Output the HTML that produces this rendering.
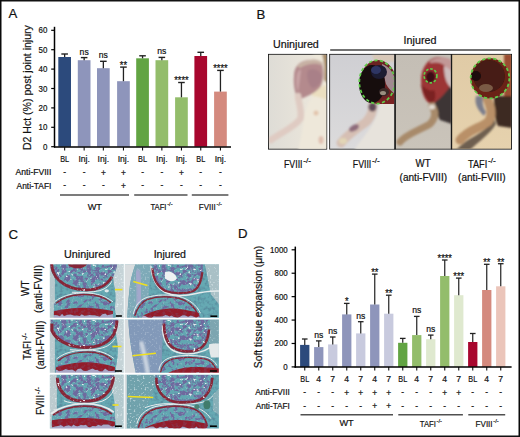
<!DOCTYPE html>
<html><head><meta charset="utf-8"><title>Figure</title>
<style>
html,body{margin:0;padding:0;background:#fff;}
body{width:520px;height:437px;overflow:hidden;}
svg{display:block;font-family:"Liberation Sans",sans-serif;}
text{stroke:#111;stroke-width:0.2px;}
</style></head><body>
<svg width="520" height="437" viewBox="0 0 520 437">
<rect width="520" height="437" fill="#fff"/>
<defs>
<filter id="bl1" x="-20%" y="-20%" width="140%" height="140%"><feGaussianBlur stdDeviation="1.2"/></filter>
<filter id="bl2" x="-20%" y="-20%" width="140%" height="140%"><feGaussianBlur stdDeviation="2.2"/></filter>
<filter id="bl05" x="-10%" y="-10%" width="120%" height="120%"><feGaussianBlur stdDeviation="0.5"/></filter>
<clipPath id="cp1"><rect x="268.9" y="54.8" width="57.4" height="93.9"/></clipPath>
<clipPath id="cp2"><rect x="330.1" y="54.8" width="64.3" height="93.9"/></clipPath>
<clipPath id="cp3"><rect x="395.7" y="54.8" width="55.2" height="93.9"/></clipPath>
<clipPath id="cp4"><rect x="452.1" y="54.8" width="59.0" height="93.9"/></clipPath>
<linearGradient id="g1" x1="0" y1="0" x2="1" y2="0"><stop offset="0" stop-color="#dedcd6"/><stop offset="1" stop-color="#efe9dc"/></linearGradient>
<linearGradient id="g2" x1="0" y1="0" x2="0" y2="1"><stop offset="0" stop-color="#cfcfd3"/><stop offset="1" stop-color="#dcdbdc"/></linearGradient>
<linearGradient id="g3" x1="0" y1="0" x2="0" y2="1"><stop offset="0" stop-color="#c4beb5"/><stop offset="1" stop-color="#cac4ba"/></linearGradient>
<linearGradient id="g4" x1="0" y1="0" x2="0" y2="1"><stop offset="0" stop-color="#e0cba6"/><stop offset="1" stop-color="#e6d2ae"/></linearGradient>
<filter id="trab" x="-5%" y="-5%" width="110%" height="110%" color-interpolation-filters="sRGB"><feTurbulence type="fractalNoise" baseFrequency="0.24" numOctaves="3" seed="4"/><feColorMatrix type="matrix" values="0 0 0 0 0.43  0 0 0 0 0.41  0 0 0 0 0.62  6 0 0 0 -2.5"/><feComposite in2="SourceGraphic" operator="in"/></filter>
<filter id="trab2" x="-5%" y="-5%" width="110%" height="110%" color-interpolation-filters="sRGB"><feTurbulence type="fractalNoise" baseFrequency="0.24" numOctaves="3" seed="9"/><feColorMatrix type="matrix" values="0 0 0 0 0.43  0 0 0 0 0.41  0 0 0 0 0.62  6 0 0 0 -3.0"/><feComposite in2="SourceGraphic" operator="in"/></filter>
<filter id="marrow" x="0" y="0" width="100%" height="100%" color-interpolation-filters="sRGB"><feTurbulence type="fractalNoise" baseFrequency="0.28" numOctaves="2" seed="21"/><feColorMatrix type="matrix" values="0 0 0 0 0.91  0 0 0 0 0.93  0 0 0 0 0.94  9 0 0 0 -6.0"/><feComposite in2="SourceGraphic" operator="in"/></filter>
<filter id="cellblur" x="-5%" y="-5%" width="110%" height="110%"><feGaussianBlur stdDeviation="0.45"/></filter>
<filter id="speck" x="0" y="0" width="100%" height="100%" color-interpolation-filters="sRGB"><feTurbulence type="fractalNoise" baseFrequency="0.55" numOctaves="1" seed="7"/><feColorMatrix type="matrix" values="0 0 0 0 0.92  0 0 0 0 0.95  0 0 0 0 0.96  4 0 0 0 -2.3"/><feComposite in2="SourceGraphic" operator="in"/></filter>
<filter id="dspeck" x="0" y="0" width="100%" height="100%" color-interpolation-filters="sRGB"><feTurbulence type="fractalNoise" baseFrequency="0.3" numOctaves="2" seed="12"/><feColorMatrix type="matrix" values="0 0 0 0 0.3  0 0 0 0 0.45  0 0 0 0 0.55  3 0 0 0 -1.3"/><feComposite in2="SourceGraphic" operator="in"/></filter>
</defs>
<text x="8.6" y="18.3" font-size="13.2" fill="#111" >A</text>
<line x1="54.5" y1="26.8" x2="54.5" y2="147.5" stroke="#000" stroke-width="1.5" />
<line x1="51.2" y1="146.7" x2="54.5" y2="146.7" stroke="#000" stroke-width="1.2" />
<text x="47.4" y="149.7" font-size="8.9" fill="#111" text-anchor="end" textLength="4.4" lengthAdjust="spacingAndGlyphs" >0</text>
<line x1="51.2" y1="127.3" x2="54.5" y2="127.3" stroke="#000" stroke-width="1.2" />
<text x="47.4" y="130.3" font-size="8.9" fill="#111" text-anchor="end" textLength="8.8" lengthAdjust="spacingAndGlyphs" >10</text>
<line x1="51.2" y1="107.9" x2="54.5" y2="107.9" stroke="#000" stroke-width="1.2" />
<text x="47.4" y="110.9" font-size="8.9" fill="#111" text-anchor="end" textLength="8.8" lengthAdjust="spacingAndGlyphs" >20</text>
<line x1="51.2" y1="88.5" x2="54.5" y2="88.5" stroke="#000" stroke-width="1.2" />
<text x="47.4" y="91.5" font-size="8.9" fill="#111" text-anchor="end" textLength="8.8" lengthAdjust="spacingAndGlyphs" >30</text>
<line x1="51.2" y1="69.1" x2="54.5" y2="69.1" stroke="#000" stroke-width="1.2" />
<text x="47.4" y="72.1" font-size="8.9" fill="#111" text-anchor="end" textLength="8.8" lengthAdjust="spacingAndGlyphs" >40</text>
<line x1="51.2" y1="49.7" x2="54.5" y2="49.7" stroke="#000" stroke-width="1.2" />
<text x="47.4" y="52.7" font-size="8.9" fill="#111" text-anchor="end" textLength="8.8" lengthAdjust="spacingAndGlyphs" >50</text>
<line x1="51.2" y1="30.3" x2="54.5" y2="30.3" stroke="#000" stroke-width="1.2" />
<text x="47.4" y="33.3" font-size="8.9" fill="#111" text-anchor="end" textLength="8.8" lengthAdjust="spacingAndGlyphs" >60</text>
<text x="31" y="87.6" font-size="11.2" fill="#111" text-anchor="middle" textLength="125" lengthAdjust="spacingAndGlyphs" transform="rotate(-90 31 87.6)" >D2 Hct (%) post joint injury</text>
<rect x="58.3" y="57" width="12.7" height="89.7" fill="#2c4a7c" />
<line x1="64.65" y1="57" x2="64.65" y2="54" stroke="#222" stroke-width="1.3" />
<line x1="61.35" y1="54" x2="67.95" y2="54" stroke="#222" stroke-width="1.4" />
<rect x="77.8" y="60.2" width="12.7" height="86.5" fill="#8e95bb" />
<line x1="84.15" y1="60.2" x2="84.15" y2="57.6" stroke="#222" stroke-width="1.3" />
<line x1="80.85" y1="57.6" x2="87.45" y2="57.6" stroke="#222" stroke-width="1.4" />
<text x="84.15" y="54.6" font-size="8.6" fill="#111" text-anchor="middle" >ns</text>
<rect x="97" y="68.2" width="12.7" height="78.5" fill="#8e95bb" />
<line x1="103.35" y1="68.2" x2="103.35" y2="61.3" stroke="#222" stroke-width="1.3" />
<line x1="100.05" y1="61.3" x2="106.65" y2="61.3" stroke="#222" stroke-width="1.4" />
<text x="103.35" y="58.3" font-size="8.6" fill="#111" text-anchor="middle" >ns</text>
<rect x="117.1" y="81.2" width="12.7" height="65.5" fill="#8e95bb" />
<line x1="123.45" y1="81.2" x2="123.45" y2="67.1" stroke="#222" stroke-width="1.3" />
<line x1="120.15" y1="67.1" x2="126.75" y2="67.1" stroke="#222" stroke-width="1.4" />
<text x="123.45" y="68.7" font-size="10" fill="#111" text-anchor="middle" textLength="7.2" lengthAdjust="spacingAndGlyphs" >**</text>
<rect x="136.2" y="58.3" width="12.7" height="88.4" fill="#62a443" />
<line x1="142.55" y1="58.3" x2="142.55" y2="55.8" stroke="#222" stroke-width="1.3" />
<line x1="139.25" y1="55.8" x2="145.85" y2="55.8" stroke="#222" stroke-width="1.4" />
<rect x="155.5" y="60.2" width="12.7" height="86.5" fill="#93bd6b" />
<line x1="161.85" y1="60.2" x2="161.85" y2="57.4" stroke="#222" stroke-width="1.3" />
<line x1="158.55" y1="57.4" x2="165.15" y2="57.4" stroke="#222" stroke-width="1.4" />
<text x="161.85" y="54.4" font-size="8.6" fill="#111" text-anchor="middle" >ns</text>
<rect x="175.1" y="97.3" width="12.7" height="49.4" fill="#93bd6b" />
<line x1="181.45" y1="97.3" x2="181.45" y2="82.5" stroke="#222" stroke-width="1.3" />
<line x1="178.15" y1="82.5" x2="184.75" y2="82.5" stroke="#222" stroke-width="1.4" />
<text x="181.45" y="84.1" font-size="10" fill="#111" text-anchor="middle" textLength="14.4" lengthAdjust="spacingAndGlyphs" >****</text>
<rect x="194.4" y="56" width="12.7" height="90.7" fill="#a8072e" />
<line x1="200.75" y1="56" x2="200.75" y2="52.3" stroke="#222" stroke-width="1.3" />
<line x1="197.45" y1="52.3" x2="204.05" y2="52.3" stroke="#222" stroke-width="1.4" />
<rect x="214.1" y="91.6" width="12.7" height="55.1" fill="#d48a7e" />
<line x1="220.45" y1="91.6" x2="220.45" y2="70.4" stroke="#222" stroke-width="1.3" />
<line x1="217.15" y1="70.4" x2="223.75" y2="70.4" stroke="#222" stroke-width="1.4" />
<text x="220.45" y="72" font-size="10" fill="#111" text-anchor="middle" textLength="14.4" lengthAdjust="spacingAndGlyphs" >****</text>
<line x1="54" y1="146.9" x2="231" y2="146.9" stroke="#000" stroke-width="1.5" />
<line x1="64.65" y1="147" x2="64.65" y2="150.4" stroke="#111" stroke-width="1.1" />
<text x="64.65" y="161.9" font-size="8.6" fill="#111" text-anchor="middle" textLength="8.9" lengthAdjust="spacingAndGlyphs" >BL</text>
<text x="64.65" y="175.2" font-size="8.4" fill="#111" text-anchor="middle" >-</text>
<text x="64.65" y="188.3" font-size="8.4" fill="#111" text-anchor="middle" >-</text>
<line x1="84.15" y1="147" x2="84.15" y2="150.4" stroke="#111" stroke-width="1.1" />
<text x="84.15" y="161.9" font-size="8.6" fill="#111" text-anchor="middle" >Inj.</text>
<text x="84.15" y="175.2" font-size="8.4" fill="#111" text-anchor="middle" >-</text>
<text x="84.15" y="188.3" font-size="8.4" fill="#111" text-anchor="middle" >-</text>
<line x1="103.35" y1="147" x2="103.35" y2="150.4" stroke="#111" stroke-width="1.1" />
<text x="103.35" y="161.9" font-size="8.6" fill="#111" text-anchor="middle" >Inj.</text>
<text x="103.35" y="175.6" font-size="8.4" fill="#111" text-anchor="middle" >+</text>
<text x="103.35" y="188.3" font-size="8.4" fill="#111" text-anchor="middle" >-</text>
<line x1="123.45" y1="147" x2="123.45" y2="150.4" stroke="#111" stroke-width="1.1" />
<text x="123.45" y="161.9" font-size="8.6" fill="#111" text-anchor="middle" >Inj.</text>
<text x="123.45" y="175.6" font-size="8.4" fill="#111" text-anchor="middle" >+</text>
<text x="123.45" y="188.7" font-size="8.4" fill="#111" text-anchor="middle" >+</text>
<line x1="142.55" y1="147" x2="142.55" y2="150.4" stroke="#111" stroke-width="1.1" />
<text x="142.55" y="161.9" font-size="8.6" fill="#111" text-anchor="middle" textLength="8.9" lengthAdjust="spacingAndGlyphs" >BL</text>
<text x="142.55" y="175.2" font-size="8.4" fill="#111" text-anchor="middle" >-</text>
<text x="142.55" y="188.3" font-size="8.4" fill="#111" text-anchor="middle" >-</text>
<line x1="161.85" y1="147" x2="161.85" y2="150.4" stroke="#111" stroke-width="1.1" />
<text x="161.85" y="161.9" font-size="8.6" fill="#111" text-anchor="middle" >Inj.</text>
<text x="161.85" y="175.2" font-size="8.4" fill="#111" text-anchor="middle" >-</text>
<text x="161.85" y="188.3" font-size="8.4" fill="#111" text-anchor="middle" >-</text>
<line x1="181.45" y1="147" x2="181.45" y2="150.4" stroke="#111" stroke-width="1.1" />
<text x="181.45" y="161.9" font-size="8.6" fill="#111" text-anchor="middle" >Inj.</text>
<text x="181.45" y="175.6" font-size="8.4" fill="#111" text-anchor="middle" >+</text>
<text x="181.45" y="188.3" font-size="8.4" fill="#111" text-anchor="middle" >-</text>
<line x1="200.75" y1="147" x2="200.75" y2="150.4" stroke="#111" stroke-width="1.1" />
<text x="200.75" y="161.9" font-size="8.6" fill="#111" text-anchor="middle" textLength="8.9" lengthAdjust="spacingAndGlyphs" >BL</text>
<text x="200.75" y="175.2" font-size="8.4" fill="#111" text-anchor="middle" >-</text>
<text x="200.75" y="188.3" font-size="8.4" fill="#111" text-anchor="middle" >-</text>
<line x1="220.45" y1="147" x2="220.45" y2="150.4" stroke="#111" stroke-width="1.1" />
<text x="220.45" y="161.9" font-size="8.6" fill="#111" text-anchor="middle" >Inj.</text>
<text x="220.45" y="175.2" font-size="8.4" fill="#111" text-anchor="middle" >-</text>
<text x="220.45" y="188.3" font-size="8.4" fill="#111" text-anchor="middle" >-</text>
<text x="51.4" y="175.4" font-size="8.4" fill="#111" text-anchor="end" textLength="35.8" lengthAdjust="spacingAndGlyphs" >Anti-FVIII</text>
<text x="51.4" y="188.5" font-size="8.4" fill="#111" text-anchor="end" textLength="34.8" lengthAdjust="spacingAndGlyphs" >Anti-TAFI</text>
<line x1="60" y1="195" x2="129" y2="195" stroke="#505050" stroke-width="1.6" />
<line x1="134.2" y1="195" x2="187.5" y2="195" stroke="#505050" stroke-width="1.6" />
<line x1="191.8" y1="195" x2="228.4" y2="195" stroke="#505050" stroke-width="1.6" />
<text x="94.8" y="210.1" font-size="9.2" fill="#111" text-anchor="middle" >WT</text>
<text x="150.4" y="210" font-size="9" fill="#111" textLength="16.1" lengthAdjust="spacingAndGlyphs" >TAFI</text>
<text x="167.2" y="206" font-size="5.8" fill="#111" textLength="5.4" lengthAdjust="spacingAndGlyphs" >-/-</text>
<text x="198.8" y="210" font-size="9" fill="#111" textLength="17" lengthAdjust="spacingAndGlyphs" >FVIII</text>
<text x="216.5" y="206" font-size="5.8" fill="#111" textLength="5.4" lengthAdjust="spacingAndGlyphs" >-/-</text>
<text x="256.6" y="18.5" font-size="13.2" fill="#111" >B</text>
<text x="273" y="47.9" font-size="10.4" fill="#111" textLength="45.8" lengthAdjust="spacingAndGlyphs" >Uninjured</text>
<text x="403.6" y="43.6" font-size="10.4" fill="#111" textLength="32.8" lengthAdjust="spacingAndGlyphs" >Injured</text>
<line x1="330.2" y1="50" x2="510.6" y2="50" stroke="#444" stroke-width="1.6" />
<rect x="268" y="53.9" width="59.2" height="95.7" fill="#1c1c1c"/>
<rect x="329.2" y="53.9" width="182.8" height="95.7" fill="#1c1c1c"/>
<g clip-path="url(#cp1)">
<rect x="268" y="54" width="60" height="96" fill="url(#g1)"/>
<g filter="url(#bl1)">
<path d="M312 54 L328 54 L328 150 L298 150 C301 140 303 128 304 118 C306 106 312 96 320 88 C324 82 324 70 320 62 Z" fill="#eee8da"/>
<path d="M322 54 L328 54 L328 84 L324 80 C325 70 324 60 322 54 Z" fill="#a78b68"/>
<path d="M312 90 C318 88 324 86 327 84 L327 100 C322 98 316 96 312 96 Z" fill="#ebdfc0"/>
<path d="M294 76 C294 68 298 63 304 61 C310 59 318 60 322 63 C324 70 324 80 321 86 C316 93 306 97 298 100 C295 94 293 84 294 76 Z" fill="#b48a8d"/>
<path d="M297 66 C301 62 308 59.5 315 59.5 C319 60 322 61.5 323 63 L321 65 C316 63 308 63 300 68 Z" fill="#c8b2a4"/>
<path d="M308 70 C314 68 320 70 322 76 C322 82 318 88 312 88 C308 84 306 76 308 70 Z" fill="#a98088"/>
<path d="M296.5 78 C297 72 299 69 301 70 C300 78 299 86 298 92 C296.5 88 296 84 296.5 78 Z" fill="#c9a4a6"/>
<path d="M298 96 C299 104 302 112 300.5 118.5 C295 127 282 132 271 140" fill="none" stroke="#dfcbc2" stroke-width="6.5" stroke-linecap="round"/>
<ellipse cx="316" cy="113" rx="2.5" ry="2.5" fill="#e2c4ac"/>
<ellipse cx="321" cy="140" rx="2.5" ry="4" fill="#e0c0b0"/>
</g></g>
<g clip-path="url(#cp2)">
<rect x="329" y="54" width="66" height="96" fill="url(#g2)"/>
<g filter="url(#bl1)">
<path d="M372 54 L395 54 L395 62 L374 61 Z" fill="#d8c8b8"/>
<path d="M380 104 C384 96 392 96 395 96 L395 150 L354 150 C364 136 376 124 380 104 Z" fill="#e7e3dc"/>
<path d="M373 101 C373 110 372 116 366 122 C358 128 348 134 341 143" fill="none" stroke="#d6bfb4" stroke-width="9" stroke-linecap="round"/>
<ellipse cx="354" cy="128" rx="5.5" ry="3" fill="#8e6c7c" transform="rotate(-30 354 128)"/>
<ellipse cx="372.5" cy="107" rx="4" ry="4.5" fill="#5e4856"/>
<ellipse cx="343" cy="141" rx="4" ry="3" fill="#e2d6b6"/>
</g>
<g filter="url(#bl05)">
<ellipse cx="378" cy="82" rx="18" ry="22" fill="#6a2424"/>
<path d="M382 64 C388 66 394 72 395 80 L395 94 C392 92 388 88 386 84 C384 76 382 70 382 64 Z" fill="#a08a90"/>
<ellipse cx="372" cy="84" rx="13" ry="19" fill="#130910"/>
<ellipse cx="379" cy="72" rx="8" ry="7" fill="#1e1a30"/>
<ellipse cx="376" cy="70" rx="5" ry="4" fill="#2e3664"/>
<ellipse cx="384" cy="92" rx="5" ry="4" fill="#3a2a28"/>
<ellipse cx="383" cy="93" rx="3" ry="2" fill="#9a9080"/>
<path d="M376 102 C382 100 390 96 395 92 L395 104 L376 104 Z" fill="#7a2424"/>
</g>
<ellipse cx="377" cy="82" rx="17.7" ry="21.6" fill="none" stroke="#5fcb48" stroke-width="1.8" stroke-dasharray="3.2 2.4"/>
</g>
<g clip-path="url(#cp3)">
<rect x="395" y="54" width="57" height="96" fill="url(#g3)"/>
<g filter="url(#bl1)">
<path d="M436 84 L452 78 L452 124 L440 120 C434 110 434 96 436 86 Z" fill="#3c3636"/>
<path d="M421 80 C421 68 428 58 438 57 C446 57 452 62 452 68 L452 84 C446 92 440 100 432 104 C426 104 421 94 421 80 Z" fill="#9c3434"/>
<path d="M430 61 C436 57 444 56 450 59 L452 62 L452 76 C448 72 446 68 444 65 C440 62 436 62 430 63 Z" fill="#c29896"/>
<path d="M444 66 C448 68 452 70 452 74 L452 88 C448 86 444 80 444 66 Z" fill="#cdbcbc"/>
<path d="M421 84 C423 94 427 100 432 104 C436 100 436 94 434 90 C430 92 426 90 421 84 Z" fill="#7a2020"/>
<ellipse cx="430.5" cy="77" rx="5" ry="6" fill="#3a1016"/>
<path d="M432 106 C436 112 436 118 430 124 C420 130 406 134 400 142" fill="none" stroke="#a88a6a" stroke-width="7" stroke-linecap="round"/>
<ellipse cx="432" cy="107" rx="3" ry="2.5" fill="#e2dad2"/>
</g>
<ellipse cx="430.5" cy="75.8" rx="6.4" ry="7" fill="none" stroke="#5fcb48" stroke-width="1.7" stroke-dasharray="2.6 1.8"/>
</g>
<g clip-path="url(#cp4)">
<rect x="451" y="54" width="61" height="96" fill="url(#g4)"/>
<g filter="url(#bl1)">
<path d="M504 54 L512 54 L512 106 L504 104 Z" fill="#9a4e32"/>
<path d="M494 96 L512 96 L512 128 L498 126 C494 118 494 106 494 96 Z" fill="#3e2c22"/>
<path d="M476 96 C474 104 478 110 484 116 L486 112 C482 106 482 100 484 96 Z" fill="#7c7e8c"/>
<path d="M494 118 C490 128 478 134 468 140 C462 144 458 148 456 150 L470 150 C478 142 490 134 496 124 Z" fill="#6e5e50"/>
<path d="M487 98 C490 106 494 114 488 122 C480 128 468 130 460 140" fill="none" stroke="#b99068" stroke-width="9" stroke-linecap="round"/>
</g>
<g filter="url(#bl05)">
<ellipse cx="490" cy="78.3" rx="19.5" ry="20.2" fill="#6a2416"/>
<ellipse cx="489" cy="76" rx="16" ry="16" fill="#461a12"/>
<ellipse cx="486" cy="88" rx="7" ry="4" fill="#7a5a44"/>
<ellipse cx="476" cy="76" rx="5" ry="5" fill="#1c0c0c"/>
</g>
<ellipse cx="490" cy="78.3" rx="19.3" ry="20" fill="none" stroke="#5fcb48" stroke-width="1.8" stroke-dasharray="3.2 2.4"/>
</g>
<rect x="394.4" y="54" width="1.3" height="95.5" fill="#1a1a1a"/>
<rect x="450.9" y="54" width="1.2" height="95.5" fill="#1a1a1a"/>
<text x="284" y="167.5" font-size="10.2" fill="#111" textLength="18.5" lengthAdjust="spacingAndGlyphs" >FVIII</text>
<text x="303.2" y="162.9" font-size="8" fill="#111" textLength="7.8" lengthAdjust="spacingAndGlyphs" >-/-</text>
<text x="352.8" y="167.5" font-size="10.2" fill="#111" textLength="18.5" lengthAdjust="spacingAndGlyphs" >FVIII</text>
<text x="372" y="162.9" font-size="8" fill="#111" textLength="7.8" lengthAdjust="spacingAndGlyphs" >-/-</text>
<text x="423.1" y="166.9" font-size="10" fill="#111" text-anchor="middle" textLength="15" lengthAdjust="spacingAndGlyphs" >WT</text>
<text x="423.3" y="180.7" font-size="10" fill="#111" text-anchor="middle" textLength="47.5" lengthAdjust="spacingAndGlyphs" >(anti-FVIII)</text>
<text x="468" y="167.5" font-size="10.2" fill="#111" textLength="19.2" lengthAdjust="spacingAndGlyphs" >TAFI</text>
<text x="487.9" y="162.9" font-size="8" fill="#111" textLength="7.8" lengthAdjust="spacingAndGlyphs" >-/-</text>
<text x="481.8" y="180.7" font-size="10" fill="#111" text-anchor="middle" textLength="47.5" lengthAdjust="spacingAndGlyphs" >(anti-FVIII)</text>
<text x="8.6" y="239" font-size="13.2" fill="#111" >C</text>
<text x="64" y="257.9" font-size="10.4" fill="#111" textLength="46.2" lengthAdjust="spacingAndGlyphs" >Uninjured</text>
<text x="153.7" y="257.9" font-size="10.4" fill="#111" textLength="32.3" lengthAdjust="spacingAndGlyphs" >Injured</text>
<clipPath id="hc00"><rect x="0" y="0" width="73.8" height="53.5"/></clipPath><g transform="translate(49.9 264.2)"><g clip-path="url(#hc00)"><g filter="url(#cellblur)"><rect x="-2" y="-2" width="77.8" height="57.5" fill="#66a9b3"/><rect x="0" y="0" width="73.8" height="53.5" fill="#000" filter="url(#dspeck)" opacity="0.5"/><path d="M0 0 L5 0 L5 54 L0 54 Z" fill="#b7c9cd"/><path d="M0 0 L5 0 L5 54 L0 54 Z" fill="#000" filter="url(#speck)" opacity="0.50"/><path d="M62 0 L74 0 L74 54 L62 54 C66 44 67 30 64 20 Z" fill="#c5d3d7"/><path d="M62 0 L74 0 L74 54 L62 54 C66 44 67 30 64 20 Z" fill="#000" filter="url(#speck)" opacity="0.90"/><path d="M0.5 0 C0.5 12 10 26 36 26.8 C50 26.8 58 22 63 13 C66 7 67 3 67 0 Z" fill="#62a6b1"/><path d="M0.5 0 C0.5 12 10 26 36 26.8 C50 26.8 58 22 63 13 C66 7 67 3 67 0 Z" fill="#000" filter="url(#trab)"/><path d="M22 28 C30 28.4 42 28.4 50 26.4 C56 24.6 60 21 62 17" fill="none" stroke="#e6eced" stroke-width="1.0"/><path d="M1.8 -1 C1.8 11 11 25 36 25.6 C50 25.8 57 21 62 12.5" fill="none" stroke="#862838" stroke-width="2.86"/><path d="M0.5 0 C0.5 12 10 26 36 26.8 C50 26.8 58 22 63 13 C66 7 67 3 67 0 Z" fill="#000" filter="url(#speck)" opacity="0.35"/><path d="M0.5 0 C0.5 12 10 26 36 26.8 C50 26.8 58 22 63 13 C66 7 67 3 67 0 Z" fill="#000" filter="url(#marrow)"/><path d="M18 0 L37 0 C36 2 33 4 28 4 C22 4 19 2 18 0 Z" fill="#862838"/><ellipse cx="56.8" cy="26.6" rx="2.2" ry="1.6" fill="#dfe8ea"/><path d="M4 54 L4 40 C10 34.5 20 30.2 30 29.4 C42 28.6 54 31 62 38 C65 42 66 48 66 54 Z" fill="#62a6b1"/><path d="M4 54 L4 40 C10 34.5 20 30.2 30 29.4 C42 28.6 54 31 62 38 C65 42 66 48 66 54 Z" fill="#000" filter="url(#trab2)"/><path d="M5 37.2 C12 32 21 29.4 30 28.8 C42 28 54 30.4 63 37.6" fill="none" stroke="#e6eced" stroke-width="1.0"/><path d="M6 39 C12 34 21 31 30 30.5 C42 29.8 54 32 61 38.5" fill="none" stroke="#862838" stroke-width="1.44"/><path d="M4 54 L4 40 C10 34.5 20 30.2 30 29.4 C42 28.6 54 31 62 38 C65 42 66 48 66 54 Z" fill="#000" filter="url(#speck)" opacity="0.35"/><path d="M63.0 60.0 L63.0 49.9 L63.0 49.9 L60.3 50.3 L57.4 51.1 L55.5 49.2 L52.3 50.0 L50.1 52.2 L47.5 51.7 L44.9 51.1 L42.8 51.1 L39.6 50.8 L36.5 51.2 L34.6 51.5 L31.8 50.1 L29.9 51.8 L27.3 51.4 L24.0 51.3 L20.7 50.4 L17.5 50.5 L14.1 51.8 L12.2 49.6 L10.0 52.1 L7.5 51.1 L5.1 50.7 L4.0 51.0 L4.0 60 Z" fill="#a9a6c6"/><path d="M4.0 47.0 C12.8 45.0 24.6 43.6 33.5 43.6 C42.4 43.6 54.1 44.9 63.0 46.8 L63.0 49.9 L60.3 50.3 L57.4 51.1 L55.5 49.2 L52.3 50.0 L50.1 52.2 L47.5 51.7 L44.9 51.1 L42.8 51.1 L39.6 50.8 L36.5 51.2 L34.6 51.5 L31.8 50.1 L29.9 51.8 L27.3 51.4 L24.0 51.3 L20.7 50.4 L17.5 50.5 L14.1 51.8 L12.2 49.6 L10.0 52.1 L7.5 51.1 L5.1 50.7 L4.0 51.0 Z" fill="#931f2c"/><path d="M4.0 47.0 C12.8 45.0 24.6 43.6 33.5 43.6 C42.4 43.6 54.1 44.9 63.0 46.8 L63.0 49.9 L60.3 50.3 L57.4 51.1 L55.5 49.2 L52.3 50.0 L50.1 52.2 L47.5 51.7 L44.9 51.1 L42.8 51.1 L39.6 50.8 L36.5 51.2 L34.6 51.5 L31.8 50.1 L29.9 51.8 L27.3 51.4 L24.0 51.3 L20.7 50.4 L17.5 50.5 L14.1 51.8 L12.2 49.6 L10.0 52.1 L7.5 51.1 L5.1 50.7 L4.0 51.0 Z" fill="#000" filter="url(#trab2)" opacity="0.2"/><line x1="65.0" y1="25.4" x2="72.5" y2="25.4" stroke="#f0e01e" stroke-width="1.6" stroke-linecap="butt"/><line x1="66.0" y1="51.8" x2="72.0" y2="51.8" stroke="#050505" stroke-width="1.6"/></g></g></g>
<clipPath id="hc01"><rect x="0" y="0" width="94.0" height="53.5"/></clipPath><g transform="translate(124.9 264.2)"><g clip-path="url(#hc01)"><g filter="url(#cellblur)"><rect x="-2" y="-2" width="98.0" height="57.5" fill="#66a9b3"/><rect x="0" y="0" width="94.0" height="53.5" fill="#000" filter="url(#dspeck)" opacity="0.5"/><path d="M0 0 L10.5 0 C7 10 5 18 4.5 26 C3.5 36 2.5 46 2.5 54 L0 54 Z" fill="#d9dddf"/><path d="M10.5 0 L27 0 C25 12 24 30 23 40 C20 46 14 50 10 54 L2.5 54 C2.5 46 3.5 36 4.5 26 C5 18 7 10 10.5 0 Z" fill="#7eaab8"/><path d="M10.5 0 L27 0 C25 12 24 30 23 40 C20 46 14 50 10 54 L2.5 54 C2.5 46 3.5 36 4.5 26 C5 18 7 10 10.5 0 Z" fill="#000" filter="url(#speck)" opacity="0.50"/><path d="M12 6 C14 16 16 28 14 44" stroke="#a4a8cc" stroke-width="6" fill="none" filter="url(#bl1)"/><path d="M80 0 L94 0 L94 40 L86 30 Z" fill="#a9c0c6"/><path d="M80 0 L94 0 L94 40 L86 30 Z" fill="#000" filter="url(#speck)" opacity="0.90"/><path d="M27 0 C26 10 30 22 40 27 C48 30.5 60 31 68 28 C76 25 78 12 78 0 Z" fill="#62a6b1"/><path d="M27 0 C26 10 30 22 40 27 C48 30.5 60 31 68 28 C76 25 78 12 78 0 Z" fill="#000" filter="url(#trab)"/><path d="M26 2 C27 14 31 23 40 28 C48 31.8 60 32.4 70 29.6 C80 27 88 27 94 26.8" fill="none" stroke="#e6eced" stroke-width="1.5"/><path d="M27.5 4 C28 14 32 22 40 26.5 C48 29.5 60 30 68 27 C74 24.5 76.5 16 77.5 8" fill="none" stroke="#862838" stroke-width="2.20"/><path d="M27 0 C26 10 30 22 40 27 C48 30.5 60 31 68 28 C76 25 78 12 78 0 Z" fill="#000" filter="url(#speck)" opacity="0.35"/><path d="M27 0 C26 10 30 22 40 27 C48 30.5 60 31 68 28 C76 25 78 12 78 0 Z" fill="#000" filter="url(#marrow)"/><path d="M40 8 C44 6 50 8 52 14 C50 18 44 18 40 14 Z" fill="#eef2f2"/><path d="M8 54 C10 44 14 37 22 34 C32 31 44 31 54 33 C64 35.5 72 42 76 54 Z" fill="#62a6b1"/><path d="M8 54 C10 44 14 37 22 34 C32 31 44 31 54 33 C64 35.5 72 42 76 54 Z" fill="#000" filter="url(#trab2)"/><path d="M8.5 50 C10 42 14 36.2 22 33.2 C32 30.2 44 30.2 54 32.2 C64 34.7 72 41 75.5 49" fill="none" stroke="#e6eced" stroke-width="1.0"/><path d="M10 52 C12 44 16 38 23 35 C32 32 44 32 54 34 C63 36.5 70 42 74 52" fill="none" stroke="#862838" stroke-width="1.44"/><path d="M8 54 C10 44 14 37 22 34 C32 31 44 31 54 33 C64 35.5 72 42 76 54 Z" fill="#000" filter="url(#speck)" opacity="0.35"/><path d="M74.0 60.0 L74.0 52.1 L74.0 52.1 L71.2 53.5 L68.7 52.2 L65.9 51.3 L63.2 52.6 L60.0 51.0 L57.7 51.0 L54.5 52.8 L52.7 53.6 L49.2 52.7 L46.4 51.2 L44.6 52.3 L42.7 51.3 L40.5 50.8 L37.9 52.0 L34.6 52.3 L31.7 52.2 L28.8 52.1 L26.5 53.7 L23.1 53.2 L20.0 51.6 L17.9 51.6 L17.0 52.5 L17.0 60 Z" fill="#a9a6c6"/><path d="M17.0 52.0 C25.5 47.4 37.0 44.4 45.5 44.4 C54.0 44.4 65.5 46.2 74.0 49.0 L74.0 52.1 L71.2 53.5 L68.7 52.2 L65.9 51.3 L63.2 52.6 L60.0 51.0 L57.7 51.0 L54.5 52.8 L52.7 53.6 L49.2 52.7 L46.4 51.2 L44.6 52.3 L42.7 51.3 L40.5 50.8 L37.9 52.0 L34.6 52.3 L31.7 52.2 L28.8 52.1 L26.5 53.7 L23.1 53.2 L20.0 51.6 L17.9 51.6 L17.0 52.5 Z" fill="#931f2c"/><path d="M17.0 52.0 C25.5 47.4 37.0 44.4 45.5 44.4 C54.0 44.4 65.5 46.2 74.0 49.0 L74.0 52.1 L71.2 53.5 L68.7 52.2 L65.9 51.3 L63.2 52.6 L60.0 51.0 L57.7 51.0 L54.5 52.8 L52.7 53.6 L49.2 52.7 L46.4 51.2 L44.6 52.3 L42.7 51.3 L40.5 50.8 L37.9 52.0 L34.6 52.3 L31.7 52.2 L28.8 52.1 L26.5 53.7 L23.1 53.2 L20.0 51.6 L17.9 51.6 L17.0 52.5 Z" fill="#000" filter="url(#trab2)" opacity="0.2"/><line x1="8.4" y1="17.3" x2="22.6" y2="21.3" stroke="#f0e01e" stroke-width="1.6" stroke-linecap="butt"/><line x1="85.5" y1="52.0" x2="92.3" y2="52.0" stroke="#050505" stroke-width="1.6"/></g></g></g>
<clipPath id="hc10"><rect x="0" y="0" width="73.8" height="53.3"/></clipPath><g transform="translate(49.9 319.5)"><g clip-path="url(#hc10)"><g filter="url(#cellblur)"><rect x="-2" y="-2" width="77.8" height="57.3" fill="#66a9b3"/><rect x="0" y="0" width="73.8" height="53.3" fill="#000" filter="url(#dspeck)" opacity="0.5"/><path d="M0 0 L5 0 L5 54 L0 54 Z" fill="#bdccd0"/><path d="M0 0 L5 0 L5 54 L0 54 Z" fill="#000" filter="url(#speck)" opacity="0.60"/><path d="M64 0 L74 0 L74 54 L64 54 C68 44 69 30 67 20 Z" fill="#c5d3d7"/><path d="M64 0 L74 0 L74 54 L64 54 C68 44 69 30 67 20 Z" fill="#000" filter="url(#speck)" opacity="0.90"/><path d="M1 0 L1 10 C4 20 16 28 35 29 C50 29 60 24 65 15 C67 9 68 4 68 0 Z" fill="#62a6b1"/><path d="M1 0 L1 10 C4 20 16 28 35 29 C50 29 60 24 65 15 C67 9 68 4 68 0 Z" fill="#000" filter="url(#trab)"/><path d="M20 30.2 C28 30.8 40 31 50 29 C58 27.2 62 24 65 19" fill="none" stroke="#e6eced" stroke-width="1.0"/><path d="M2 4 L2 11 C6 20 17 27.5 35 28 C50 28 59 23 64 14.5 C66 9 67 5 67 1" fill="none" stroke="#862838" stroke-width="3.08"/><path d="M1 0 L1 10 C4 20 16 28 35 29 C50 29 60 24 65 15 C67 9 68 4 68 0 Z" fill="#000" filter="url(#speck)" opacity="0.35"/><path d="M1 0 L1 10 C4 20 16 28 35 29 C50 29 60 24 65 15 C67 9 68 4 68 0 Z" fill="#000" filter="url(#marrow)"/><path d="M6 54 L6 42 C12 36 22 32.4 34 31.6 C46 31 56 33.6 63 40 C66 44 66 50 66 54 Z" fill="#62a6b1"/><path d="M6 54 L6 42 C12 36 22 32.4 34 31.6 C46 31 56 33.6 63 40 C66 44 66 50 66 54 Z" fill="#000" filter="url(#trab2)"/><path d="M6.5 39.6 C13 34 22 31.2 34 30.6 C46 30 56 32.6 64 39" fill="none" stroke="#e6eced" stroke-width="1.0"/><path d="M8 41.5 C14 36 22 33.2 34 32.6 C46 32 56 34.6 62 40.5" fill="none" stroke="#862838" stroke-width="1.44"/><path d="M6 54 L6 42 C12 36 22 32.4 34 31.6 C46 31 56 33.6 63 40 C66 44 66 50 66 54 Z" fill="#000" filter="url(#speck)" opacity="0.35"/><path d="M65.0 60.0 L65.0 50.9 L65.0 50.9 L61.9 51.4 L58.5 51.2 L55.2 49.1 L52.6 51.8 L49.7 51.7 L47.7 50.4 L45.5 50.6 L42.7 49.0 L40.5 49.8 L37.2 51.3 L35.1 51.4 L33.1 50.9 L31.0 49.0 L27.8 49.6 L25.6 51.9 L22.3 49.9 L18.9 50.6 L15.9 49.6 L12.5 51.1 L9.1 51.7 L6.8 50.1 L6.0 50.8 L6.0 60 Z" fill="#a9a6c6"/><path d="M6.0 48.0 C14.8 44.9 26.6 42.8 35.5 42.8 C44.4 42.8 56.1 44.7 65.0 47.5 L65.0 50.9 L61.9 51.4 L58.5 51.2 L55.2 49.1 L52.6 51.8 L49.7 51.7 L47.7 50.4 L45.5 50.6 L42.7 49.0 L40.5 49.8 L37.2 51.3 L35.1 51.4 L33.1 50.9 L31.0 49.0 L27.8 49.6 L25.6 51.9 L22.3 49.9 L18.9 50.6 L15.9 49.6 L12.5 51.1 L9.1 51.7 L6.8 50.1 L6.0 50.8 Z" fill="#931f2c"/><path d="M6.0 48.0 C14.8 44.9 26.6 42.8 35.5 42.8 C44.4 42.8 56.1 44.7 65.0 47.5 L65.0 50.9 L61.9 51.4 L58.5 51.2 L55.2 49.1 L52.6 51.8 L49.7 51.7 L47.7 50.4 L45.5 50.6 L42.7 49.0 L40.5 49.8 L37.2 51.3 L35.1 51.4 L33.1 50.9 L31.0 49.0 L27.8 49.6 L25.6 51.9 L22.3 49.9 L18.9 50.6 L15.9 49.6 L12.5 51.1 L9.1 51.7 L6.8 50.1 L6.0 50.8 Z" fill="#000" filter="url(#trab2)" opacity="0.2"/><line x1="62.6" y1="27.0" x2="71.6" y2="27.0" stroke="#f0e01e" stroke-width="1.6" stroke-linecap="butt"/><line x1="65.0" y1="51.5" x2="72.0" y2="51.5" stroke="#050505" stroke-width="1.6"/></g></g></g>
<clipPath id="hc11"><rect x="0" y="0" width="94.0" height="53.3"/></clipPath><g transform="translate(124.9 319.5)"><g clip-path="url(#hc11)"><g filter="url(#cellblur)"><rect x="-2" y="-2" width="98.0" height="57.3" fill="#66a9b3"/><rect x="0" y="0" width="94.0" height="53.3" fill="#000" filter="url(#dspeck)" opacity="0.5"/><path d="M0 0 L3.5 0 C4 16 6.5 32 11 54 L0 54 Z" fill="#d9dddf"/><path d="M3.5 0 L40 0 C38 14 37 28 37 38 C37 46 36 50 36 54 L11 54 C6.5 32 4 16 3.5 0 Z" fill="#8299b9"/><path d="M3.5 0 L40 0 C38 14 37 28 37 38 C37 46 36 50 36 54 L11 54 C6.5 32 4 16 3.5 0 Z" fill="#000" filter="url(#speck)" opacity="0.40"/><path d="M16 22 C19 32 21 42 23 54" stroke="#c9d3df" stroke-width="4.5" fill="none" filter="url(#bl1)"/><path d="M80 0 L94 0 L94 26 L86 26 C82 18 80 8 80 0 Z" fill="#7ba5b0"/><path d="M80 0 L94 0 L94 26 L86 26 C82 18 80 8 80 0 Z" fill="#000" filter="url(#speck)" opacity="0.60"/><path d="M38 0 C37 12 40 22 46 28 C53 33 64 34 72 32 C80 29 85 18 85 0 Z" fill="#62a6b1"/><path d="M38 0 C37 12 40 22 46 28 C53 33 64 34 72 32 C80 29 85 18 85 0 Z" fill="#000" filter="url(#trab)"/><path d="M37.5 6 C37.5 16 40 25 46 29.6 C53 34.6 64 35.4 73 33.2 C79 31.6 83 29.6 86 27.6" fill="none" stroke="#e6eced" stroke-width="1.3"/><path d="M39 4 C39 14 41.5 22 46.5 27 C53 32 64 33 71.5 31 C79 28 83.5 20 84 10" fill="none" stroke="#862838" stroke-width="2.64"/><path d="M38 0 C37 12 40 22 46 28 C53 33 64 34 72 32 C80 29 85 18 85 0 Z" fill="#000" filter="url(#speck)" opacity="0.35"/><path d="M38 0 C37 12 40 22 46 28 C53 33 64 34 72 32 C80 29 85 18 85 0 Z" fill="#000" filter="url(#marrow)"/><path d="M84 25 C87 23.5 91 24 94 24 L94 38 L86 38 C85 34 84 30 84 25 Z" fill="#e4e8e9"/><path d="M34 54 C35 46 39 40.5 48 38.4 C57 36.6 70 36.6 80 38.4 C88 40 92 46 94 54 Z" fill="#62a6b1"/><path d="M34 54 C35 46 39 40.5 48 38.4 C57 36.6 70 36.6 80 38.4 C88 40 92 46 94 54 Z" fill="#000" filter="url(#trab2)"/><path d="M34 51 C35 44 39 39.4 48 37.3 C57 35.5 70 35.5 80 37.3 C86 38.6 90 42 92 46" fill="none" stroke="#e6eced" stroke-width="1.0"/><path d="M35.5 53 C37 46 40 41.5 48 39.4 C57 37.6 70 37.6 80 39.4 C87 41 90 46 92 52" fill="none" stroke="#862838" stroke-width="1.44"/><path d="M34 54 C35 46 39 40.5 48 38.4 C57 36.6 70 36.6 80 38.4 C88 40 92 46 94 54 Z" fill="#000" filter="url(#speck)" opacity="0.35"/><path d="M94.0 60.0 L94.0 53.5 L94.0 53.5 L91.0 54.8 L87.8 53.3 L85.6 53.1 L83.4 54.9 L81.4 54.3 L79.2 53.6 L76.7 55.2 L73.9 52.7 L71.6 53.1 L68.3 55.1 L65.1 55.2 L62.1 55.5 L58.9 53.5 L55.7 54.2 L52.6 54.4 L50.1 53.8 L47.5 53.6 L45.5 55.2 L44.0 54.5 L44.0 60 Z" fill="#a9a6c6"/><path d="M44.0 53.0 C51.5 49.8 61.5 47.6 69.0 47.6 C76.5 47.6 86.5 48.2 94.0 49.0 L94.0 53.5 L91.0 54.8 L87.8 53.3 L85.6 53.1 L83.4 54.9 L81.4 54.3 L79.2 53.6 L76.7 55.2 L73.9 52.7 L71.6 53.1 L68.3 55.1 L65.1 55.2 L62.1 55.5 L58.9 53.5 L55.7 54.2 L52.6 54.4 L50.1 53.8 L47.5 53.6 L45.5 55.2 L44.0 54.5 Z" fill="#931f2c"/><path d="M44.0 53.0 C51.5 49.8 61.5 47.6 69.0 47.6 C76.5 47.6 86.5 48.2 94.0 49.0 L94.0 53.5 L91.0 54.8 L87.8 53.3 L85.6 53.1 L83.4 54.9 L81.4 54.3 L79.2 53.6 L76.7 55.2 L73.9 52.7 L71.6 53.1 L68.3 55.1 L65.1 55.2 L62.1 55.5 L58.9 53.5 L55.7 54.2 L52.6 54.4 L50.1 53.8 L47.5 53.6 L45.5 55.2 L44.0 54.5 Z" fill="#000" filter="url(#trab2)" opacity="0.2"/><line x1="7.5" y1="36.2" x2="31.0" y2="33.7" stroke="#f0e01e" stroke-width="1.6" stroke-linecap="butt"/><line x1="85.0" y1="51.5" x2="92.0" y2="51.5" stroke="#050505" stroke-width="1.6"/></g></g></g>
<clipPath id="hc20"><rect x="0" y="0" width="73.8" height="53.9"/></clipPath><g transform="translate(49.9 374.7)"><g clip-path="url(#hc20)"><g filter="url(#cellblur)"><rect x="-2" y="-2" width="77.8" height="57.9" fill="#66a9b3"/><rect x="0" y="0" width="73.8" height="53.9" fill="#000" filter="url(#dspeck)" opacity="0.5"/><path d="M0 0 L7 0 L7 54 L0 54 Z" fill="#bccbcf"/><path d="M0 0 L7 0 L7 54 L0 54 Z" fill="#000" filter="url(#speck)" opacity="0.90"/><path d="M62 0 L74 0 L74 54 L64 54 C66 40 65 24 62 14 Z" fill="#b3c9ce"/><path d="M62 0 L74 0 L74 54 L64 54 C66 40 65 24 62 14 Z" fill="#000" filter="url(#speck)" opacity="0.90"/><path d="M7 0 C6 10 10 20 20 25 C28 28.5 42 28.5 50 25 C60 20 64 10 64 0 Z" fill="#62a6b1"/><path d="M7 0 C6 10 10 20 20 25 C28 28.5 42 28.5 50 25 C60 20 64 10 64 0 Z" fill="#000" filter="url(#trab)"/><path d="M14 26 C22 29.6 40 30 52 26.6 C58 24.4 62 20 64 15" fill="none" stroke="#e6eced" stroke-width="1.0"/><path d="M7.5 3 C7.5 11 11 19 20.5 24 C28 27.5 42 27.5 49.5 24 C59 19 63 10 63.5 2" fill="none" stroke="#862838" stroke-width="3.08"/><path d="M7 0 C6 10 10 20 20 25 C28 28.5 42 28.5 50 25 C60 20 64 10 64 0 Z" fill="#000" filter="url(#speck)" opacity="0.35"/><path d="M7 0 C6 10 10 20 20 25 C28 28.5 42 28.5 50 25 C60 20 64 10 64 0 Z" fill="#000" filter="url(#marrow)"/><path d="M2 54 L2 41 C10 34.4 22 30.8 34 30.4 C46 30.2 56 33 63 39 C66 43 66 49 66 54 Z" fill="#62a6b1"/><path d="M2 54 L2 41 C10 34.4 22 30.8 34 30.4 C46 30.2 56 33 63 39 C66 43 66 49 66 54 Z" fill="#000" filter="url(#trab2)"/><path d="M1 39 C9 33 22 29.4 34 29 C46 28.8 56 31.6 64 37.6" fill="none" stroke="#e6eced" stroke-width="1.7"/><path d="M3 40.5 C10 35 22 31.8 34 31.4 C46 31.2 56 34 62 39.5" fill="none" stroke="#862838" stroke-width="1.60"/><path d="M2 54 L2 41 C10 34.4 22 30.8 34 30.4 C46 30.2 56 33 63 39 C66 43 66 49 66 54 Z" fill="#000" filter="url(#speck)" opacity="0.35"/><path d="M65.0 60.0 L65.0 50.7 L65.0 50.7 L62.9 51.7 L61.0 51.3 L58.6 49.9 L55.9 49.8 L53.4 49.9 L51.4 51.0 L48.2 50.1 L46.1 51.6 L42.6 51.4 L40.2 52.6 L38.3 52.3 L36.0 50.1 L34.0 50.6 L30.8 50.2 L28.0 51.6 L25.6 51.3 L23.7 49.9 L21.5 51.7 L19.0 50.6 L16.2 51.1 L13.9 52.1 L10.9 50.4 L8.1 51.3 L4.9 51.9 L2.6 52.6 L2.0 51.5 L2.0 60 Z" fill="#a9a6c6"/><path d="M2.0 45.5 C11.4 44.1 24.1 43.2 33.5 43.2 C43.0 43.2 55.5 44.7 65.0 47.0 L65.0 50.7 L62.9 51.7 L61.0 51.3 L58.6 49.9 L55.9 49.8 L53.4 49.9 L51.4 51.0 L48.2 50.1 L46.1 51.6 L42.6 51.4 L40.2 52.6 L38.3 52.3 L36.0 50.1 L34.0 50.6 L30.8 50.2 L28.0 51.6 L25.6 51.3 L23.7 49.9 L21.5 51.7 L19.0 50.6 L16.2 51.1 L13.9 52.1 L10.9 50.4 L8.1 51.3 L4.9 51.9 L2.6 52.6 L2.0 51.5 Z" fill="#931f2c"/><path d="M2.0 45.5 C11.4 44.1 24.1 43.2 33.5 43.2 C43.0 43.2 55.5 44.7 65.0 47.0 L65.0 50.7 L62.9 51.7 L61.0 51.3 L58.6 49.9 L55.9 49.8 L53.4 49.9 L51.4 51.0 L48.2 50.1 L46.1 51.6 L42.6 51.4 L40.2 52.6 L38.3 52.3 L36.0 50.1 L34.0 50.6 L30.8 50.2 L28.0 51.6 L25.6 51.3 L23.7 49.9 L21.5 51.7 L19.0 50.6 L16.2 51.1 L13.9 52.1 L10.9 50.4 L8.1 51.3 L4.9 51.9 L2.6 52.6 L2.0 51.5 Z" fill="#000" filter="url(#trab2)" opacity="0.2"/><line x1="62.6" y1="30.3" x2="68.6" y2="30.3" stroke="#f0e01e" stroke-width="1.6" stroke-linecap="butt"/><line x1="65.0" y1="51.5" x2="72.0" y2="51.5" stroke="#050505" stroke-width="1.6"/></g></g></g>
<clipPath id="hc21"><rect x="0" y="0" width="94.0" height="53.9"/></clipPath><g transform="translate(124.9 374.7)"><g clip-path="url(#hc21)"><g filter="url(#cellblur)"><rect x="-2" y="-2" width="98.0" height="57.9" fill="#66a9b3"/><rect x="0" y="0" width="94.0" height="53.9" fill="#000" filter="url(#dspeck)" opacity="0.5"/><path d="M0 0 L2 0 L2 54 L0 54 Z" fill="#d9dddf"/><path d="M2 0 L32 0 C30 12 28 20 24 28 C18 36 14 44 12 54 L2 54 Z" fill="#6fa2ac"/><path d="M2 0 L32 0 C30 12 28 20 24 28 C18 36 14 44 12 54 L2 54 Z" fill="#000" filter="url(#speck)" opacity="0.90"/><path d="M31 0 C29 12 34 22 44 26.5 C52 29.5 66 29.5 76 26 C84 22 88 12 88 0 Z" fill="#62a6b1"/><path d="M31 0 C29 12 34 22 44 26.5 C52 29.5 66 29.5 76 26 C84 22 88 12 88 0 Z" fill="#000" filter="url(#trab)"/><path d="M20 33 C28 30 36 28.6 46 29 C56 29.4 68 30 78 27.4 C84 25.6 88 22 90 18" fill="none" stroke="#e6eced" stroke-width="1.0"/><path d="M31.5 3 C31 12 35 21 44.5 25.5 C52 28.5 66 28.5 75.5 25 C83 21 87 12 87.5 3" fill="none" stroke="#862838" stroke-width="2.64"/><path d="M31 0 C29 12 34 22 44 26.5 C52 29.5 66 29.5 76 26 C84 22 88 12 88 0 Z" fill="#000" filter="url(#speck)" opacity="0.35"/><path d="M31 0 C29 12 34 22 44 26.5 C52 29.5 66 29.5 76 26 C84 22 88 12 88 0 Z" fill="#000" filter="url(#marrow)"/><path d="M12 54 C14 44 20 36 30 33 C42 30 56 30 66 32.2 C76 34.6 82 42 84 54 Z" fill="#62a6b1"/><path d="M12 54 C14 44 20 36 30 33 C42 30 56 30 66 32.2 C76 34.6 82 42 84 54 Z" fill="#000" filter="url(#trab2)"/><path d="M12 49 C14 41 20 35 30 32 C42 29 56 29 66 31.2 C76 33.6 82 38 86 44" fill="none" stroke="#e6eced" stroke-width="1.0"/><path d="M13.5 53 C15.5 44 21 37 30.5 34 C42 31 56 31 66 33.2 C75 35.6 80.5 42 82.5 52" fill="none" stroke="#862838" stroke-width="1.60"/><path d="M12 54 C14 44 20 36 30 33 C42 30 56 30 66 32.2 C76 34.6 82 42 84 54 Z" fill="#000" filter="url(#speck)" opacity="0.35"/><path d="M82.0 60.0 L82.0 53.3 L82.0 53.3 L78.8 54.6 L76.5 54.0 L73.5 53.7 L71.6 51.8 L69.1 53.9 L66.9 53.2 L64.5 54.2 L61.1 52.9 L57.6 51.9 L54.4 54.3 L52.4 53.8 L49.6 54.6 L47.5 53.3 L44.2 53.6 L41.9 51.9 L38.5 53.1 L35.0 52.1 L31.8 54.1 L28.4 51.8 L26.0 51.9 L22.9 52.8 L20.0 53.5 L20.0 60 Z" fill="#a9a6c6"/><path d="M20.0 53.0 C29.3 48.3 41.7 45.2 51.0 45.2 C60.3 45.2 72.7 46.7 82.0 49.0 L82.0 53.3 L78.8 54.6 L76.5 54.0 L73.5 53.7 L71.6 51.8 L69.1 53.9 L66.9 53.2 L64.5 54.2 L61.1 52.9 L57.6 51.9 L54.4 54.3 L52.4 53.8 L49.6 54.6 L47.5 53.3 L44.2 53.6 L41.9 51.9 L38.5 53.1 L35.0 52.1 L31.8 54.1 L28.4 51.8 L26.0 51.9 L22.9 52.8 L20.0 53.5 Z" fill="#931f2c"/><path d="M20.0 53.0 C29.3 48.3 41.7 45.2 51.0 45.2 C60.3 45.2 72.7 46.7 82.0 49.0 L82.0 53.3 L78.8 54.6 L76.5 54.0 L73.5 53.7 L71.6 51.8 L69.1 53.9 L66.9 53.2 L64.5 54.2 L61.1 52.9 L57.6 51.9 L54.4 54.3 L52.4 53.8 L49.6 54.6 L47.5 53.3 L44.2 53.6 L41.9 51.9 L38.5 53.1 L35.0 52.1 L31.8 54.1 L28.4 51.8 L26.0 51.9 L22.9 52.8 L20.0 53.5 Z" fill="#000" filter="url(#trab2)" opacity="0.2"/><ellipse cx="82" cy="30" rx="3.5" ry="4.5" fill="#3f7c6c"/><ellipse cx="72" cy="32" rx="2.5" ry="2.5" fill="#4c8274"/><path d="M88 20 L94 14 L94 40 L88 36 Z" fill="#88b0b8"/><path d="M88 20 L94 14 L94 40 L88 36 Z" fill="#000" filter="url(#speck)" opacity="0.60"/><line x1="2.8" y1="21.8" x2="28.3" y2="22.8" stroke="#f0e01e" stroke-width="1.6" stroke-linecap="butt"/><line x1="85.0" y1="51.5" x2="92.0" y2="51.5" stroke="#050505" stroke-width="1.6"/></g></g></g>
<text x="29.3" y="288.2" font-size="10" fill="#111" text-anchor="middle" transform="rotate(-90 29.3 288.2)" >WT</text>
<text x="42.5" y="288.9" font-size="10" fill="#111" text-anchor="middle" textLength="48.1" lengthAdjust="spacingAndGlyphs" transform="rotate(-90 42.5 288.9)" >(anti-FVIII)</text>
<g transform="rotate(-90 31.4 359.8)">
<text x="31.4" y="359.8" font-size="10.2" fill="#111" textLength="18.8" lengthAdjust="spacingAndGlyphs" >TAFI</text>
<text x="50.9" y="355.2" font-size="8" fill="#111" textLength="7.4" lengthAdjust="spacingAndGlyphs" >-/-</text>
</g>
<text x="43.8" y="345" font-size="10" fill="#111" text-anchor="middle" textLength="48.9" lengthAdjust="spacingAndGlyphs" transform="rotate(-90 43.8 345)" >(anti-FVIII)</text>
<g transform="rotate(-90 44.4 415.1)">
<text x="44.4" y="415.1" font-size="10.2" fill="#111" textLength="20.2" lengthAdjust="spacingAndGlyphs" >FVIII</text>
<text x="65.3" y="410.5" font-size="8" fill="#111" textLength="7.4" lengthAdjust="spacingAndGlyphs" >-/-</text>
</g>
<text x="238" y="238.1" font-size="13.2" fill="#111" >D</text>
<line x1="295.3" y1="246.6" x2="295.3" y2="367.8" stroke="#000" stroke-width="1.5" />
<line x1="291.6" y1="366.9" x2="295.3" y2="366.9" stroke="#000" stroke-width="1.2" />
<text x="287.7" y="369.9" font-size="8.9" fill="#111" text-anchor="end" textLength="4.4" lengthAdjust="spacingAndGlyphs" >0</text>
<line x1="291.6" y1="343.48" x2="295.3" y2="343.48" stroke="#000" stroke-width="1.2" />
<text x="287.7" y="346.48" font-size="8.9" fill="#111" text-anchor="end" textLength="13.2" lengthAdjust="spacingAndGlyphs" >200</text>
<line x1="291.6" y1="320.06" x2="295.3" y2="320.06" stroke="#000" stroke-width="1.2" />
<text x="287.7" y="323.06" font-size="8.9" fill="#111" text-anchor="end" textLength="13.2" lengthAdjust="spacingAndGlyphs" >400</text>
<line x1="291.6" y1="296.64" x2="295.3" y2="296.64" stroke="#000" stroke-width="1.2" />
<text x="287.7" y="299.64" font-size="8.9" fill="#111" text-anchor="end" textLength="13.2" lengthAdjust="spacingAndGlyphs" >600</text>
<line x1="291.6" y1="273.22" x2="295.3" y2="273.22" stroke="#000" stroke-width="1.2" />
<text x="287.7" y="276.22" font-size="8.9" fill="#111" text-anchor="end" textLength="13.2" lengthAdjust="spacingAndGlyphs" >800</text>
<line x1="291.6" y1="249.8" x2="295.3" y2="249.8" stroke="#000" stroke-width="1.2" />
<text x="287.7" y="252.8" font-size="8.9" fill="#111" text-anchor="end" textLength="17.6" lengthAdjust="spacingAndGlyphs" >1000</text>
<text x="261.6" y="307" font-size="10.2" fill="#111" text-anchor="middle" textLength="122.5" lengthAdjust="spacingAndGlyphs" transform="rotate(-90 261.6 307)" >Soft tissue expansion (μm)</text>
<rect x="300.1" y="344.9" width="9.3" height="22" fill="#2c4a7c" />
<line x1="304.75" y1="344.9" x2="304.75" y2="339" stroke="#222" stroke-width="1.2" />
<line x1="301.95" y1="339" x2="307.55" y2="339" stroke="#222" stroke-width="1.3" />
<line x1="304.75" y1="367" x2="304.75" y2="370.5" stroke="#111" stroke-width="1.1" />
<text x="304.75" y="381.9" font-size="8.6" fill="#111" text-anchor="middle" textLength="8.9" lengthAdjust="spacingAndGlyphs" >BL</text>
<text x="304.75" y="395" font-size="8.4" fill="#111" text-anchor="middle" >-</text>
<text x="304.75" y="409" font-size="8.4" fill="#111" text-anchor="middle" >-</text>
<rect x="314.1" y="347.1" width="9.3" height="19.8" fill="#8e95bb" />
<line x1="318.75" y1="347.1" x2="318.75" y2="340.9" stroke="#222" stroke-width="1.2" />
<line x1="315.95" y1="340.9" x2="321.55" y2="340.9" stroke="#222" stroke-width="1.3" />
<text x="318.75" y="337.9" font-size="8.6" fill="#111" text-anchor="middle" >ns</text>
<line x1="318.75" y1="367" x2="318.75" y2="370.5" stroke="#111" stroke-width="1.1" />
<text x="318.75" y="381.9" font-size="8.6" fill="#111" text-anchor="middle" >4</text>
<text x="318.75" y="395" font-size="8.4" fill="#111" text-anchor="middle" >-</text>
<text x="318.75" y="409" font-size="8.4" fill="#111" text-anchor="middle" >-</text>
<rect x="328.1" y="344.4" width="9.3" height="22.5" fill="#c8cade" />
<line x1="332.75" y1="344.4" x2="332.75" y2="337" stroke="#222" stroke-width="1.2" />
<line x1="329.95" y1="337" x2="335.55" y2="337" stroke="#222" stroke-width="1.3" />
<text x="332.75" y="334" font-size="8.6" fill="#111" text-anchor="middle" >ns</text>
<line x1="332.75" y1="367" x2="332.75" y2="370.5" stroke="#111" stroke-width="1.1" />
<text x="332.75" y="381.9" font-size="8.6" fill="#111" text-anchor="middle" >7</text>
<text x="332.75" y="395" font-size="8.4" fill="#111" text-anchor="middle" >-</text>
<text x="332.75" y="409" font-size="8.4" fill="#111" text-anchor="middle" >-</text>
<rect x="342.1" y="314.4" width="9.3" height="52.5" fill="#8e95bb" />
<line x1="346.75" y1="314.4" x2="346.75" y2="303.4" stroke="#222" stroke-width="1.2" />
<line x1="343.95" y1="303.4" x2="349.55" y2="303.4" stroke="#222" stroke-width="1.3" />
<text x="346.75" y="305.2" font-size="10" fill="#111" text-anchor="middle" textLength="3.6" lengthAdjust="spacingAndGlyphs" >*</text>
<line x1="346.75" y1="367" x2="346.75" y2="370.5" stroke="#111" stroke-width="1.1" />
<text x="346.75" y="381.9" font-size="8.6" fill="#111" text-anchor="middle" >4</text>
<text x="346.75" y="396.2" font-size="8.4" fill="#111" text-anchor="middle" >+</text>
<text x="346.75" y="409" font-size="8.4" fill="#111" text-anchor="middle" >-</text>
<rect x="356.1" y="333.4" width="9.3" height="33.5" fill="#c8cade" />
<line x1="360.75" y1="333.4" x2="360.75" y2="321.7" stroke="#222" stroke-width="1.2" />
<line x1="357.95" y1="321.7" x2="363.55" y2="321.7" stroke="#222" stroke-width="1.3" />
<text x="360.75" y="318.7" font-size="8.6" fill="#111" text-anchor="middle" >ns</text>
<line x1="360.75" y1="367" x2="360.75" y2="370.5" stroke="#111" stroke-width="1.1" />
<text x="360.75" y="381.9" font-size="8.6" fill="#111" text-anchor="middle" >7</text>
<text x="360.75" y="396.2" font-size="8.4" fill="#111" text-anchor="middle" >+</text>
<text x="360.75" y="409" font-size="8.4" fill="#111" text-anchor="middle" >-</text>
<rect x="370.1" y="304.5" width="9.3" height="62.4" fill="#8e95bb" />
<line x1="374.75" y1="304.5" x2="374.75" y2="274.1" stroke="#222" stroke-width="1.2" />
<line x1="371.95" y1="274.1" x2="377.55" y2="274.1" stroke="#222" stroke-width="1.3" />
<text x="374.75" y="275.9" font-size="10" fill="#111" text-anchor="middle" textLength="7.2" lengthAdjust="spacingAndGlyphs" >**</text>
<line x1="374.75" y1="367" x2="374.75" y2="370.5" stroke="#111" stroke-width="1.1" />
<text x="374.75" y="381.9" font-size="8.6" fill="#111" text-anchor="middle" >4</text>
<text x="374.75" y="396.2" font-size="8.4" fill="#111" text-anchor="middle" >+</text>
<text x="374.75" y="409.2" font-size="8.4" fill="#111" text-anchor="middle" >+</text>
<rect x="384.1" y="313.7" width="9.3" height="53.2" fill="#c8cade" />
<line x1="388.75" y1="313.7" x2="388.75" y2="295.2" stroke="#222" stroke-width="1.2" />
<line x1="385.95" y1="295.2" x2="391.55" y2="295.2" stroke="#222" stroke-width="1.3" />
<text x="388.75" y="297" font-size="10" fill="#111" text-anchor="middle" textLength="7.2" lengthAdjust="spacingAndGlyphs" >**</text>
<line x1="388.75" y1="367" x2="388.75" y2="370.5" stroke="#111" stroke-width="1.1" />
<text x="388.75" y="381.9" font-size="8.6" fill="#111" text-anchor="middle" >7</text>
<text x="388.75" y="396.2" font-size="8.4" fill="#111" text-anchor="middle" >+</text>
<text x="388.75" y="409.2" font-size="8.4" fill="#111" text-anchor="middle" >+</text>
<rect x="398.1" y="342.8" width="9.3" height="24.1" fill="#62a443" />
<line x1="402.75" y1="342.8" x2="402.75" y2="338.4" stroke="#222" stroke-width="1.2" />
<line x1="399.95" y1="338.4" x2="405.55" y2="338.4" stroke="#222" stroke-width="1.3" />
<line x1="402.75" y1="367" x2="402.75" y2="370.5" stroke="#111" stroke-width="1.1" />
<text x="402.75" y="381.9" font-size="8.6" fill="#111" text-anchor="middle" textLength="8.9" lengthAdjust="spacingAndGlyphs" >BL</text>
<text x="402.75" y="395" font-size="8.4" fill="#111" text-anchor="middle" >-</text>
<text x="402.75" y="409" font-size="8.4" fill="#111" text-anchor="middle" >-</text>
<rect x="412.1" y="335.1" width="9.3" height="31.8" fill="#93bd6b" />
<line x1="416.75" y1="335.1" x2="416.75" y2="316.4" stroke="#222" stroke-width="1.2" />
<line x1="413.95" y1="316.4" x2="419.55" y2="316.4" stroke="#222" stroke-width="1.3" />
<text x="416.75" y="313.4" font-size="8.6" fill="#111" text-anchor="middle" >ns</text>
<line x1="416.75" y1="367" x2="416.75" y2="370.5" stroke="#111" stroke-width="1.1" />
<text x="416.75" y="381.9" font-size="8.6" fill="#111" text-anchor="middle" >4</text>
<text x="416.75" y="395" font-size="8.4" fill="#111" text-anchor="middle" >-</text>
<text x="416.75" y="409" font-size="8.4" fill="#111" text-anchor="middle" >-</text>
<rect x="426.1" y="339.2" width="9.3" height="27.7" fill="#dfe9cf" />
<line x1="430.75" y1="339.2" x2="430.75" y2="335.1" stroke="#222" stroke-width="1.2" />
<line x1="427.95" y1="335.1" x2="433.55" y2="335.1" stroke="#222" stroke-width="1.3" />
<text x="430.75" y="332.1" font-size="8.6" fill="#111" text-anchor="middle" >ns</text>
<line x1="430.75" y1="367" x2="430.75" y2="370.5" stroke="#111" stroke-width="1.1" />
<text x="430.75" y="381.9" font-size="8.6" fill="#111" text-anchor="middle" >7</text>
<text x="430.75" y="395" font-size="8.4" fill="#111" text-anchor="middle" >-</text>
<text x="430.75" y="409" font-size="8.4" fill="#111" text-anchor="middle" >-</text>
<rect x="440.1" y="276" width="9.3" height="90.9" fill="#93bd6b" />
<line x1="444.75" y1="276" x2="444.75" y2="260" stroke="#222" stroke-width="1.2" />
<line x1="441.95" y1="260" x2="447.55" y2="260" stroke="#222" stroke-width="1.3" />
<text x="444.75" y="261.8" font-size="10" fill="#111" text-anchor="middle" textLength="14.4" lengthAdjust="spacingAndGlyphs" >****</text>
<line x1="444.75" y1="367" x2="444.75" y2="370.5" stroke="#111" stroke-width="1.1" />
<text x="444.75" y="381.9" font-size="8.6" fill="#111" text-anchor="middle" >4</text>
<text x="444.75" y="396.2" font-size="8.4" fill="#111" text-anchor="middle" >+</text>
<text x="444.75" y="409" font-size="8.4" fill="#111" text-anchor="middle" >-</text>
<rect x="454.1" y="295.2" width="9.3" height="71.7" fill="#dfe9cf" />
<line x1="458.75" y1="295.2" x2="458.75" y2="278.1" stroke="#222" stroke-width="1.2" />
<line x1="455.95" y1="278.1" x2="461.55" y2="278.1" stroke="#222" stroke-width="1.3" />
<text x="458.75" y="279.9" font-size="10" fill="#111" text-anchor="middle" textLength="10.8" lengthAdjust="spacingAndGlyphs" >***</text>
<line x1="458.75" y1="367" x2="458.75" y2="370.5" stroke="#111" stroke-width="1.1" />
<text x="458.75" y="381.9" font-size="8.6" fill="#111" text-anchor="middle" >7</text>
<text x="458.75" y="396.2" font-size="8.4" fill="#111" text-anchor="middle" >+</text>
<text x="458.75" y="409" font-size="8.4" fill="#111" text-anchor="middle" >-</text>
<rect x="468.1" y="342" width="9.3" height="24.9" fill="#a8072e" />
<line x1="472.75" y1="342" x2="472.75" y2="333.5" stroke="#222" stroke-width="1.2" />
<line x1="469.95" y1="333.5" x2="475.55" y2="333.5" stroke="#222" stroke-width="1.3" />
<line x1="472.75" y1="367" x2="472.75" y2="370.5" stroke="#111" stroke-width="1.1" />
<text x="472.75" y="381.9" font-size="8.6" fill="#111" text-anchor="middle" textLength="8.9" lengthAdjust="spacingAndGlyphs" >BL</text>
<text x="472.75" y="395" font-size="8.4" fill="#111" text-anchor="middle" >-</text>
<text x="472.75" y="409" font-size="8.4" fill="#111" text-anchor="middle" >-</text>
<rect x="482.1" y="290" width="9.3" height="76.9" fill="#d48a7e" />
<line x1="486.75" y1="290" x2="486.75" y2="264.3" stroke="#222" stroke-width="1.2" />
<line x1="483.95" y1="264.3" x2="489.55" y2="264.3" stroke="#222" stroke-width="1.3" />
<text x="486.75" y="266.1" font-size="10" fill="#111" text-anchor="middle" textLength="7.2" lengthAdjust="spacingAndGlyphs" >**</text>
<line x1="486.75" y1="367" x2="486.75" y2="370.5" stroke="#111" stroke-width="1.1" />
<text x="486.75" y="381.9" font-size="8.6" fill="#111" text-anchor="middle" >4</text>
<text x="486.75" y="395" font-size="8.4" fill="#111" text-anchor="middle" >-</text>
<text x="486.75" y="409" font-size="8.4" fill="#111" text-anchor="middle" >-</text>
<rect x="496.1" y="286.3" width="9.3" height="80.6" fill="#ebc5ba" />
<line x1="500.75" y1="286.3" x2="500.75" y2="263.7" stroke="#222" stroke-width="1.2" />
<line x1="497.95" y1="263.7" x2="503.55" y2="263.7" stroke="#222" stroke-width="1.3" />
<text x="500.75" y="265.5" font-size="10" fill="#111" text-anchor="middle" textLength="7.2" lengthAdjust="spacingAndGlyphs" >**</text>
<line x1="500.75" y1="367" x2="500.75" y2="370.5" stroke="#111" stroke-width="1.1" />
<text x="500.75" y="381.9" font-size="8.6" fill="#111" text-anchor="middle" >7</text>
<text x="500.75" y="395" font-size="8.4" fill="#111" text-anchor="middle" >-</text>
<text x="500.75" y="409" font-size="8.4" fill="#111" text-anchor="middle" >-</text>
<line x1="294.6" y1="367" x2="511.6" y2="367" stroke="#000" stroke-width="1.5" />
<text x="289.8" y="395.2" font-size="8.4" fill="#111" text-anchor="end" textLength="34.6" lengthAdjust="spacingAndGlyphs" >Anti-FVIII</text>
<text x="289.8" y="408.5" font-size="8.4" fill="#111" text-anchor="end" textLength="34" lengthAdjust="spacingAndGlyphs" >Anti-TAFI</text>
<line x1="300.5" y1="414.7" x2="393" y2="414.7" stroke="#505050" stroke-width="1.6" />
<line x1="398.3" y1="414.7" x2="462.9" y2="414.7" stroke="#505050" stroke-width="1.6" />
<line x1="468.3" y1="414.7" x2="505.2" y2="414.7" stroke="#505050" stroke-width="1.6" />
<text x="346.6" y="426.4" font-size="9.2" fill="#111" text-anchor="middle" >WT</text>
<text x="419.8" y="426.6" font-size="9" fill="#111" textLength="16.1" lengthAdjust="spacingAndGlyphs" >TAFI</text>
<text x="436.6" y="422.6" font-size="5.8" fill="#111" textLength="5.4" lengthAdjust="spacingAndGlyphs" >-/-</text>
<text x="475.6" y="426.6" font-size="9" fill="#111" textLength="17" lengthAdjust="spacingAndGlyphs" >FVIII</text>
<text x="493.3" y="422.6" font-size="5.8" fill="#111" textLength="5.4" lengthAdjust="spacingAndGlyphs" >-/-</text>
<rect x="0" y="0" width="520" height="1.5" fill="#111"/><rect x="0" y="0" width="1.5" height="437" fill="#0a0a0a"/><rect x="518.5" y="0" width="1.5" height="437" fill="#0a0a0a"/><rect x="0" y="435.5" width="520" height="1.5" fill="#111"/>
</svg>
</body></html>
